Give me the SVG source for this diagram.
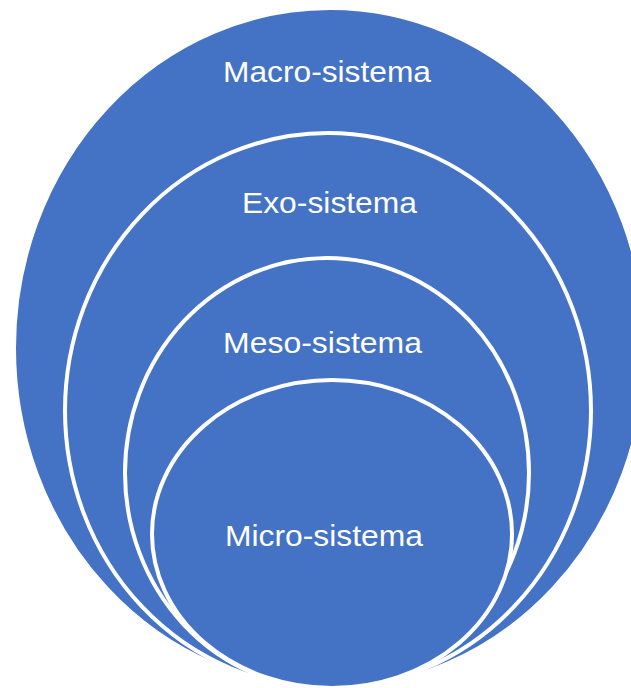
<svg xmlns="http://www.w3.org/2000/svg" width="631" height="688" viewBox="0 0 631 688">
<style>
.ring{fill:#4472C4;stroke:#FFFFFF;stroke-width:4}
.lbl{font-family:"Liberation Sans",Arial,sans-serif;font-size:29px;fill:#FFFFFF;text-anchor:middle}
</style>
<rect width="631" height="688" fill="#FFFFFF"/>
<g id="macro">
<ellipse class="ring" cx="330" cy="348" rx="316" ry="340"/>
<text class="lbl" x="327" y="82" textLength="208" lengthAdjust="spacingAndGlyphs">Macro-sistema</text>
</g>
<g id="exo">
<ellipse class="ring" cx="328" cy="410.5" rx="263" ry="277.5"/>
<text class="lbl" x="329.5" y="213" textLength="175" lengthAdjust="spacingAndGlyphs">Exo-sistema</text>
</g>
<g id="meso">
<ellipse class="ring" cx="327" cy="473" rx="202" ry="215"/>
<text class="lbl" x="322.5" y="353" textLength="199" lengthAdjust="spacingAndGlyphs">Meso-sistema</text>
</g>
<g id="micro">
<ellipse class="ring" cx="332" cy="534" rx="180" ry="154"/>
<text class="lbl" x="324" y="546" textLength="198" lengthAdjust="spacingAndGlyphs">Micro-sistema</text>
</g>
<g id="connectors"/>
</svg>
